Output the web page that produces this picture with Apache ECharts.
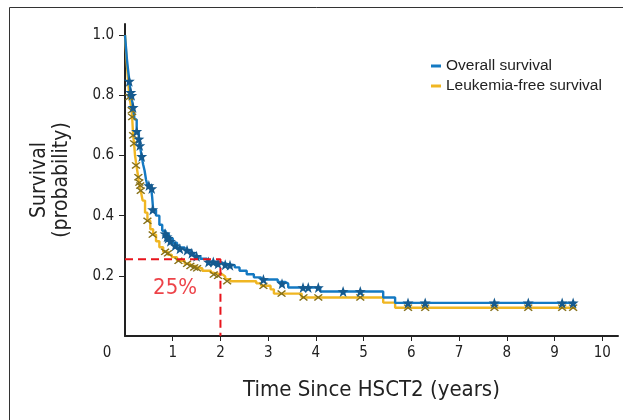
<!DOCTYPE html>
<html>
<head>
<meta charset="utf-8">
<script src="https://cdn.jsdelivr.net/npm/echarts@6/dist/echarts.min.js"></script>
<style>
html,body{margin:0;padding:0;background:#fff;}
#c{width:623px;height:420px;}
</style>
</head>
<body>
<div id="c"></div>
<script>
// ---- Data ----
const xTickLabels = [0,1,2,3,4,5,6,7,8,9,10];
const yTickLabels = [0.2,0.4,0.6,0.8,1.0];

// Overall survival (step points: time in years, survival probability)
const osTime = [0,0.02,0.04,0.06,0.09,0.12,0.15,0.17,0.2,0.245,0.29,0.31,0.35,0.38,0.41,0.44,0.47,0.55,0.57,0.59,0.65,0.72,0.78,0.85,0.92,1.0,1.09,1.25,1.37,1.45,1.58,1.72,2.0,2.1,2.3,2.4,2.55,2.7,2.85,3.2,3.35,3.42,4.09,5.41,5.66,9.45];
const osSurv = [1.0,0.96,0.92,0.89,0.85,0.81,0.78,0.76,0.72,0.68,0.655,0.633,0.597,0.57,0.55,0.52,0.5,0.49,0.46,0.42,0.4,0.37,0.35,0.34,0.325,0.31,0.294,0.285,0.275,0.265,0.257,0.246,0.24,0.235,0.228,0.217,0.205,0.195,0.188,0.18,0.174,0.161,0.148,0.128,0.11,0.11];
const osCensorTime = [0.09,0.12,0.14,0.17,0.245,0.29,0.31,0.35,0.5,0.56,0.58,0.84,0.88,0.9,0.95,1.05,1.15,1.3,1.4,1.5,1.75,1.85,1.95,2.1,2.2,2.9,3.29,3.73,3.84,4.05,4.57,4.93,5.93,6.29,7.74,8.45,9.16,9.39];
const osCensorSurv = [0.847,0.81,0.8,0.76,0.68,0.655,0.633,0.597,0.5,0.49,0.42,0.34,0.33,0.325,0.315,0.3,0.29,0.285,0.275,0.265,0.246,0.246,0.24,0.237,0.235,0.188,0.174,0.161,0.161,0.161,0.148,0.148,0.11,0.11,0.11,0.11,0.11,0.11];

// Leukemia-free survival
const lfsTime = [0,0.02,0.04,0.06,0.08,0.09,0.12,0.14,0.15,0.17,0.19,0.21,0.24,0.27,0.29,0.33,0.37,0.42,0.47,0.53,0.59,0.65,0.72,0.8,0.9,0.98,1.09,1.25,1.37,1.5,1.62,1.8,1.86,2.05,2.1,2.2,2.75,2.85,3.05,3.12,3.7,5.41,5.66,9.45];
const lfsSurv = [1.0,0.95,0.9,0.86,0.82,0.794,0.77,0.75,0.728,0.667,0.64,0.6,0.567,0.535,0.51,0.483,0.45,0.41,0.383,0.355,0.337,0.315,0.295,0.28,0.27,0.262,0.25,0.24,0.233,0.225,0.217,0.21,0.204,0.198,0.189,0.182,0.175,0.167,0.155,0.141,0.128,0.111,0.094,0.094];
const lfsCensorTime = [0.09,0.14,0.15,0.17,0.19,0.23,0.28,0.3,0.32,0.33,0.47,0.58,0.84,0.9,1.12,1.3,1.37,1.45,1.51,1.86,1.95,2.14,2.9,3.28,3.74,4.05,4.93,5.93,6.29,7.74,8.45,9.16,9.39];
const lfsCensorSurv = [0.794,0.75,0.728,0.667,0.64,0.567,0.528,0.51,0.5,0.483,0.383,0.337,0.28,0.275,0.25,0.24,0.233,0.228,0.225,0.204,0.2,0.182,0.167,0.141,0.128,0.128,0.128,0.094,0.094,0.094,0.094,0.094,0.094];

// 2-year reference
const refTime = 2;
const refSurv = 0.255;
const refLabel = '25%';
const refLabelPos = [1.05, 0.157];

const seriesNames = ['Overall survival', 'Leukemia-free survival'];

// ---- Build ----
const zip = (a, b) => a.map((v, i) => [v, b[i]]);
const STAR = 'path://M0,-10L2.35,-3.24L9.51,-3.09L3.8,1.24L5.88,8.09L0,4L-5.88,8.09L-3.8,1.24L-9.51,-3.09L-2.35,-3.24Z';
const CROSS = 'path://M-10,-7.5L-7.5,-10L0,-2.5L7.5,-10L10,-7.5L2.5,0L10,7.5L7.5,10L0,2.5L-7.5,10L-10,7.5L-2.5,0Z';
const COND = "'Liberation Sans Narrow','DejaVu Sans Condensed','Roboto Condensed',sans-serif";

const chart = echarts.init(document.getElementById('c'), null, {renderer: 'canvas'});
chart.setOption({
  animation: false,
  backgroundColor: '#fff',
  graphic: [{
    type: 'rect', shape: {x: 9.5, y: 7.5, width: 800, height: 600},
    style: {fill: 'none', stroke: '#333', lineWidth: 1}, silent: true, z: -10
  }],
  grid: {left: 125, right: 5, top: 24, bottom: 84},
  legend: {
    data: seriesNames, orient: 'vertical', left: 426, top: 53,
    itemWidth: 10, itemHeight: 3, itemGap: 4, icon: 'rect',
    textStyle: {fontFamily: "'Liberation Sans',Arial,sans-serif", fontSize: 15.5, color: '#222'}
  },
  xAxis: {
    type: 'value', min: 0, max: 10.33, interval: 1,
    name: 'Time Since HSCT2 (years)', nameLocation: 'middle', nameGap: 43,
    nameTextStyle: {fontFamily: COND, fontSize: 22, color: '#222'},
    axisLine: {show: true, lineStyle: {color: '#222', width: 2}},
    axisTick: {show: true, length: 5, lineStyle: {color: '#222', width: 1}, customValues: xTickLabels.filter(v => v > 0)},
    axisLabel: {
      customValues: xTickLabels, margin: 10, fontFamily: COND, fontSize: 15, color: '#222',
      formatter: v => v === 0 ? '{z|0}' : String(v),
      rich: {z: {fontFamily: COND, fontSize: 15, color: '#222', padding: [0, 36, 0, 0]}}
    },
    splitLine: {show: false}
  },
  yAxis: {
    type: 'value', min: 0, max: 1.037, interval: 0.2,
    name: 'Survival\n(probability)', nameLocation: 'middle', nameGap: 52, nameRotate: 90,
    nameTextStyle: {fontFamily: COND, fontSize: 21, color: '#222', lineHeight: 22},
    axisLine: {show: true, lineStyle: {color: '#222', width: 2}},
    axisTick: {show: true, length: 6, lineStyle: {color: '#222', width: 1}, customValues: yTickLabels},
    axisLabel: {customValues: yTickLabels, margin: 11, fontFamily: COND, fontSize: 15, color: '#222',
      formatter: v => v.toFixed(1)},
    splitLine: {show: false}
  },
  series: [
    {name: seriesNames[0], type: 'line', step: 'end', data: zip(osTime, osSurv), showSymbol: false,
     lineStyle: {color: '#1479c2', width: 2.4}, itemStyle: {color: '#1479c2'}, z: 3},
    {name: seriesNames[1], type: 'line', step: 'end', data: zip(lfsTime, lfsSurv), showSymbol: false,
     lineStyle: {color: '#f0b622', width: 2.4}, itemStyle: {color: '#f0b622'}, z: 2},
    {type: 'scatter', data: zip(osCensorTime, osCensorSurv), symbol: STAR, symbolSize: 11,
     itemStyle: {color: '#155a8f', opacity: 1}, z: 5, silent: true},
    {type: 'scatter', data: zip(lfsCensorTime, lfsCensorSurv), symbol: CROSS, symbolSize: [9, 7],
     itemStyle: {color: '#87711a', opacity: 1}, z: 4, silent: true},
    {type: 'line', data: [[0, refSurv], [refTime, refSurv], [refTime, 0]], showSymbol: false,
     lineStyle: {color: '#e8141c', width: 2, type: [8, 5]}, z: 6, silent: true},
    {type: 'scatter', data: [refLabelPos], symbolSize: 0, silent: true, z: 7,
     label: {show: true, position: 'inside', formatter: refLabel, fontFamily: COND, fontSize: 22, color: '#e8141c'}}
  ]
});
</script>
</body>
</html>
